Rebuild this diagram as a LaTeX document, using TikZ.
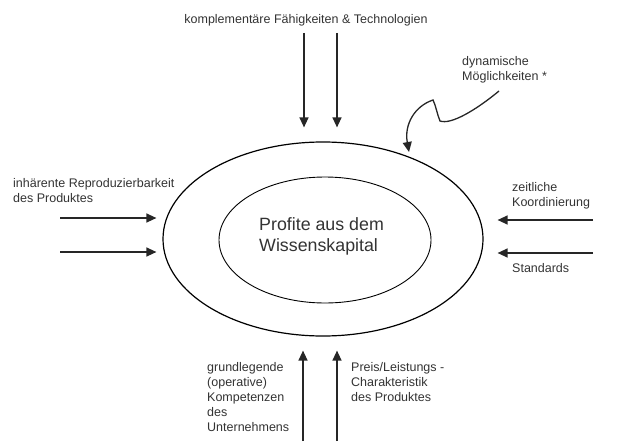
\documentclass[tikz,border=0pt]{standalone}
\usepackage{fontspec}
\setmainfont{Liberation Sans}
\usetikzlibrary{arrows.meta,shapes.geometric}
\definecolor{textgrau}{gray}{0.2}
\tikzset{
  beschriftung/.style={font=\fontsize{12.5}{15}\selectfont, align=left, inner sep=0pt, text=textgrau},
  pfeil/.style={line width=1.3pt, draw=black!85, -{Triangle[length=10pt,width=9pt]}},
}

\begin{document}
\begin{tikzpicture}[x=1pt,y=-1pt]
  \useasboundingbox (0,0) rectangle (617,441);

  % Draw ellipses
  \node[draw, ellipse, line width=1.2pt, minimum width=320pt, minimum height=194pt, inner sep=0pt] (kapital) at (323,239) {};
  \node[draw, ellipse, line width=0.9pt, minimum width=212pt, minimum height=126pt, inner sep=0pt] (kern) at (325,240) {};
  \node[font=\fontsize{17.8}{21}\selectfont, align=left, inner sep=0pt, text=textgrau, anchor=west] (profit) at (259,236.5) {Profite aus dem\\Wissenskapital};

  % Labels
  \node[beschriftung] (komplementaer) at (306,20) {komplementäre Fähigkeiten \& Technologien};
  \node[beschriftung, anchor=west] (dynamisch) at (462,69.5) {dynamische\\Möglichkeiten *};
  \node[beschriftung, anchor=west] (reproduzierbar) at (13,190.5) {inhärente Reproduzierbarkeit\\des Produktes};
  \node[beschriftung, anchor=west] (zeitlich) at (512,195.5) {zeitliche\\Koordinierung};
  \node[beschriftung, anchor=west] (standards) at (512,268) {Standards};
  \node[beschriftung, anchor=west] (kompetenz) at (207,397.5) {grundlegende\\(operative)\\Kompetenzen\\des\\Unternehmens};
  \node[beschriftung, anchor=west] (preis) at (351,382.5) {Preis/Leistungs -\\Charakteristik\\des Produktes};

  % Free ends of the arrows
  \coordinate (oben1) at (304,33);
  \coordinate (oben2) at (337,33);
  \coordinate (unten1) at (303,441);
  \coordinate (unten2) at (337,441);
  \coordinate (links1) at (60,218);
  \coordinate (links2) at (60,252);
  \coordinate (rechts1) at (593,220);
  \coordinate (rechts2) at (593,253);
  \coordinate (dyn) at (499,91);
  \coordinate (dynspitze) at (409,152);

  % Arrows into the ellipse
  \draw[pfeil, shorten >=14pt] (oben1) -- (oben1 |- kapital.north);
  \draw[pfeil, shorten >=14pt] (oben2) -- (oben2 |- kapital.north);
  \draw[pfeil, shorten >=14pt] (unten1) -- (unten1 |- kapital.south);
  \draw[pfeil, shorten >=14pt] (unten2) -- (unten2 |- kapital.south);
  \draw[pfeil, shorten >=6pt] (links1) -- (links1 -| kapital.west);
  \draw[pfeil, shorten >=6pt] (links2) -- (links2 -| kapital.west);
  \draw[pfeil, shorten >=14pt] (rechts1) -- (rechts1 -| kapital.east);
  \draw[pfeil, shorten >=14pt] (rechts2) -- (rechts2 -| kapital.east);

  % Squiggle from the dynamic label
  \draw[pfeil] (dyn) .. controls (476,110) and (451,125) .. (440,121)
    .. controls (437,114) and (436,106) .. (433,100)
    .. controls (415,106) and (404,124) .. (dynspitze);
\end{tikzpicture}
\end{document}
